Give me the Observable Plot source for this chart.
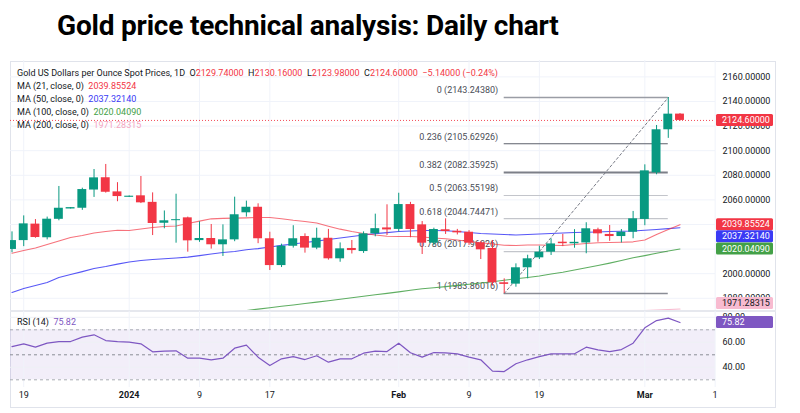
<!DOCTYPE html>
<html><head><meta charset="utf-8">
<script src="https://cdn.jsdelivr.net/npm/d3@7"></script>
<script src="https://cdn.jsdelivr.net/npm/@observablehq/plot@0.6"></script>
<style>
body{margin:0;background:#fff;width:800px;height:413px;overflow:hidden;font-family:Roboto,"Noto Sans",sans-serif;position:relative}
#title{position:absolute;left:57px;top:9px;font-size:28px;font-weight:700;color:#000;white-space:nowrap;letter-spacing:-0.2px}
#frame{position:absolute;left:10px;top:61px;width:766px;height:347px;border:1px solid #e0e3eb;box-sizing:border-box}
#sep{position:absolute;left:10px;top:310px;width:766px;height:2px;background:#e6e8ee}
#price{position:absolute;left:10px;top:60px}
#rsi{position:absolute;left:10px;top:311px}
.lg{position:absolute;left:17px;font-size:9px;color:#131722;white-space:nowrap;line-height:13px}
svg{overflow:hidden}
</style></head>
<body>
<div id="title">Gold price technical analysis: Daily chart</div>
<div id="frame"></div>
<div id="price"></div>
<div id="sep"></div>
<div id="rsi"></div>
<div id="legend"></div>
<script>
// ---------- data ----------
const dates = ["2023-12-18","2023-12-19","2023-12-20","2023-12-21","2023-12-22","2023-12-25","2023-12-26","2023-12-27","2023-12-28","2023-12-29",
"2024-01-01","2024-01-02","2024-01-03","2024-01-04","2024-01-05","2024-01-08","2024-01-09","2024-01-10","2024-01-11","2024-01-12",
"2024-01-15","2024-01-16","2024-01-17","2024-01-18","2024-01-19","2024-01-22","2024-01-23","2024-01-24","2024-01-25","2024-01-26",
"2024-01-29","2024-01-30","2024-01-31","2024-02-01","2024-02-02","2024-02-05","2024-02-06","2024-02-07","2024-02-08","2024-02-09",
"2024-02-12","2024-02-13","2024-02-14","2024-02-15","2024-02-16","2024-02-19","2024-02-20","2024-02-21","2024-02-22","2024-02-23",
"2024-02-26","2024-02-27","2024-02-28","2024-02-29","2024-03-01","2024-03-04","2024-03-05","2024-03-06"];
const open  = [2019.7,2026.9,2040.3,2029.2,2044.2,2053.0,2053.2,2068.0,2078.0,2066.5,
2062.5,2063.3,2058.0,2041.0,2043.1,2045.4,2026.9,2028.6,2023.5,2027.5,
2049.5,2054.0,2028.4,2006.6,2022.3,2030.2,2020.8,2028.8,2012.1,2020.5,
2018.0,2032.4,2036.8,2036.0,2056.2,2039.7,2024.8,2035.7,2034.5,2033.7,
2025.0,2020.5,1992.6,1991.5,2004.8,2012.9,2017.5,2025.2,2024.7,2025.0,
2035.7,2031.9,2030.2,2033.7,2044.1,2082.0,2117.0,2129.74];
const high  = [2034.0,2047.0,2044.0,2046.0,2070.9,2053.8,2069.5,2084.7,2088.8,2074.0,
2063.2,2079.0,2065.7,2051.0,2064.6,2046.0,2042.2,2040.0,2039.7,2062.2,
2059.0,2056.8,2033.7,2024.0,2039.0,2032.4,2037.0,2036.0,2025.0,2027.0,
2034.0,2048.4,2056.0,2065.4,2058.0,2042.4,2037.0,2044.6,2036.0,2035.0,
2026.0,2027.0,1995.8,2008.0,2015.0,2022.3,2028.3,2032.0,2035.8,2041.4,
2037.0,2039.2,2035.9,2050.6,2088.5,2120.5,2143.24,2130.16];
const low   = [2017.0,2022.0,2028.8,2027.5,2043.0,2052.6,2051.5,2062.0,2065.5,2058.5,
2062.0,2057.0,2031.0,2036.5,2024.8,2017.5,2025.5,2020.0,2014.0,2026.0,
2046.0,2024.4,2002.6,2005.0,2020.8,2016.7,2019.5,2011.0,2009.3,2016.0,
2016.5,2030.0,2031.0,2034.0,2029.2,2015.6,2023.0,2031.9,2031.5,2023.0,
2011.5,1990.0,1983.86,1989.0,1995.8,2011.5,2014.8,2022.0,2020.7,2016.2,
2025.6,2026.3,2025.0,2028.4,2039.0,2080.4,2110.0,2123.98];
const close = [2026.9,2040.5,2029.4,2044.3,2053.2,2053.3,2068.4,2077.9,2066.2,2062.7,
2062.6,2057.6,2040.8,2043.0,2043.9,2026.7,2028.6,2023.5,2027.5,2047.9,
2054.0,2028.4,2006.6,2022.3,2028.4,2020.8,2028.8,2012.1,2020.2,2018.8,
2032.4,2036.6,2036.0,2056.2,2035.9,2024.8,2035.9,2034.3,2033.2,2024.8,
2019.4,1992.6,1991.3,2004.8,2012.1,2017.5,2024.2,2024.8,2025.1,2036.5,
2032.4,2030.2,2033.7,2044.6,2083.6,2117.0,2129.7,2124.60];
const ma21 = [2016.6,2018.8,2020.9,2023.7,2026.6,2029.4,2031.0,2033.1,2034.3,2035.3,
2035.1,2036.3,2037.5,2038.4,2038.8,2040.8,2042.7,2044.6,2045.0,2045.2,
2045.4,2045.7,2045.7,2044.7,2043.4,2042.4,2041.2,2038.6,2036.2,2034.3,
2032.7,2031.4,2030.4,2030.2,2030.2,2029.8,2029.0,2028.4,2027.4,2026.2,
2025.1,2024.1,2023.1,2022.9,2023.3,2023.3,2023.1,2022.9,2023.7,2024.5,
2025.1,2025.3,2025.6,2025.9,2027.4,2031.9,2035.9,2039.85524];
const ma50 = [1984.7,1987.9,1990.4,1992.8,1996.9,1999.3,2001.7,2004.2,2005.8,2007.8,
2009.5,2010.7,2011.5,2012.1,2012.7,2013.5,2014.7,2016.0,2017.2,2018.0,
2019.4,2020.4,2021.7,2023.0,2024.1,2025.3,2026.5,2027.8,2029.0,2030.2,
2031.4,2032.6,2033.4,2034.3,2034.7,2035.1,2035.1,2034.9,2034.3,2033.5,
2032.7,2032.3,2031.9,2031.4,2031.9,2032.3,2032.7,2033.1,2033.5,2033.7,
2033.9,2034.3,2034.5,2034.7,2035.3,2035.9,2036.6,2037.32140];
const ma100 = [null,null,null,null,null,null,null,null,null,null,
null,null,null,null,null,null,null,null,null,1968.9,
1970.0,1971.2,1972.3,1973.5,1974.6,1975.7,1976.9,1978.0,1979.2,1980.4,
1981.7,1982.9,1984.0,1985.2,1986.5,1987.7,1988.6,1989.5,1990.5,1991.4,
1992.4,1993.4,1994.6,1995.9,1996.9,1998.1,1999.7,2001.2,2003.0,2004.8,
2006.6,2008.6,2010.7,2012.9,2014.7,2016.6,2018.4,2020.04090];
const ma200 = [null,null,null,null,null,null,null,null,null,null,
null,null,null,null,null,null,null,null,null,null,
null,null,null,null,null,null,null,null,null,null,
null,null,null,null,null,null,null,null,null,null,
null,null,null,null,null,null,null,null,1967.5,1968.0,
1968.4,1968.8,1969.2,1969.6,1970.0,1970.4,1970.9,1971.28315];
const rsi = [56.6,58.8,56.1,59.3,60.6,60.6,64.1,66.0,61.4,60.6,
60.1,58.8,52.4,52.9,53.2,47.3,47.3,46.0,47.3,55.3,
57.7,48.1,41.4,46.8,48.6,46.2,49.2,44.1,46.8,46.8,
51.3,52.9,52.6,59.3,51.6,48.1,51.8,51.6,50.8,48.1,
46.0,36.9,36.6,42.8,46.0,48.6,50.8,50.8,50.8,56.1,
54.0,52.6,54.2,59.3,71.6,77.4,79.3,75.82];
const fibLevels = ["0","0.236","0.382","0.5","0.618","0.786","1"];
const fibPrices = [2143.24380,2105.62926,2082.35925,2063.55198,2044.74471,2017.96826,1983.86016];
const fibFrom = "2024-02-14", fibTo = "2024-03-05";
const tickDates  = ["2023-12-19","2024-01-01","2024-01-09","2024-01-17","2024-02-01","2024-02-09","2024-02-19","2024-03-01","2024-03-11"];
const tickLabels = ["19","2024","9","17","Feb","9","19","Mar","1"];
const tickBold   = [false,true,false,false,true,false,false,true,false];
const priceTicks = [1980,2000,2020,2040,2060,2080,2100,2120,2140,2160];
const rsiTicks = [40,60,80];
const rsiLevels = [30,50,70];
const legendName = "Gold US Dollars per Ounce Spot Prices, 1D";
const legendChange = "\u22125.14000 (\u22120.24%)";
const maNames = ["MA (21, close, 0)","MA (50, close, 0)","MA (100, close, 0)","MA (200, close, 0)"];

// ---------- helpers ----------
function wdIndex(s){
  const t0=new Date(dates[0]+"T00:00Z"), t=new Date(s+"T00:00Z");
  let n=0; for(let d=new Date(t0); d<t; d.setUTCDate(d.getUTCDate()+1)){const w=d.getUTCDay(); if(w!==0&&w!==6) n++;}
  return n;
}
const UP="#089981", DOWN="#f23645";
const C21="#f23645", C50="#3a3af5", C100="#43a047", C200="#f8bbd0", CRSI="#7e57c2";
const candles = dates.map((d,i)=>({i,o:open[i],h:high[i],l:low[i],c:close[i]}));
const ticks = tickDates.map((d,k)=>({i:wdIndex(d),label:tickLabels[k],bold:tickBold[k]}));
const fibs = fibLevels.map((l,k)=>({lvl:l,p:fibPrices[k],k}));
const f0=wdIndex(fibFrom), f1=wdIndex(fibTo);
const fibColor=["#9a9da5","#5d606b","#7c7f88","#c3c5cb","#c3c5cb","#c3c5cb","#8a8d96"];
const fibWidth=[1.6,1,2,1.2,1.2,1.2,1.6];
const xDomain=[-0.128,60.03];
const W=766, MR=61;
const fmt5=d3.format(".5f");
const pad = 0.4;

// ---------- price panel ----------
const price = Plot.plot({
  width:W, height:250, marginLeft:0, marginRight:MR, marginTop:0, marginBottom:0,
  style:{fontSize:"9px",fontFamily:"Roboto, sans-serif",color:"#131722",background:"transparent"},
  x:{domain:xDomain, axis:null},
  y:{domain:[1970.07,2173.32], axis:"right", ticks:priceTicks, tickFormat:fmt5, tickSize:0, tickPadding:7, label:null},
  marks:[
    Plot.ruleY(priceTicks,{stroke:"#f0f3fa"}),
    Plot.ruleX(ticks,{x:"i",stroke:"#f0f3fa"}),
    Plot.ruleY([close[close.length-1]],{stroke:DOWN,strokeDasharray:"1,2",strokeOpacity:0.9}),
    Plot.ruleY(fibs,{y:"p",x1:f0,x2:f1,stroke:d=>fibColor[d.k],strokeWidth:d=>fibWidth[d.k]}),
    Plot.text(fibs,{x:()=>f0,y:"p",text:d=>`${d.lvl} (${fmt5(d.p)})`,textAnchor:"end",dx:-6,dy:-7,fill:"#4a4d57",fontSize:9}),
    Plot.line([{i:f0,p:fibPrices[6]},{i:f1,p:fibPrices[0]}],{x:"i",y:"p",stroke:"#787b86",strokeDasharray:"2.5,2.5",strokeWidth:1}),
    Plot.line(candles,{x:"i",y:d=>ma200[d.i],stroke:C200,strokeWidth:1.2,clip:true}),
    Plot.line(candles,{x:"i",y:d=>ma100[d.i],stroke:C100,strokeWidth:1.1,strokeOpacity:0.85,clip:true}),
    Plot.line(candles,{x:"i",y:d=>ma50[d.i],stroke:C50,strokeWidth:1.1,strokeOpacity:0.85,clip:true}),
    Plot.line(candles,{x:"i",y:d=>ma21[d.i],stroke:C21,strokeWidth:1.1,strokeOpacity:0.7,clip:true}),
    Plot.ruleX(candles,{x:"i",y1:"l",y2:"h",stroke:d=>d.c>=d.o?UP:DOWN,strokeWidth:1}),
    Plot.rect(candles,{x1:d=>d.i-0.38,x2:d=>d.i+0.38,
      y1:d=>Math.min(d.o,d.c)-(Math.abs(d.c-d.o)<0.8?pad:0),
      y2:d=>Math.max(d.o,d.c)+(Math.abs(d.c-d.o)<0.8?pad:0),
      fill:d=>d.c>=d.o?UP:DOWN})
  ]
});
document.getElementById("price").appendChild(price);

// ---------- rsi panel ----------
const rsiData = rsi.map((v,i)=>({i,v}));
const rsiChart = Plot.plot({
  width:W, height:96, marginLeft:0, marginRight:MR, marginTop:0, marginBottom:20,
  style:{fontSize:"9px",fontFamily:"Roboto, sans-serif",color:"#131722",background:"transparent"},
  x:{domain:xDomain, axis:null},
  y:{domain:[23.84,84.64], axis:"right", ticks:rsiTicks, tickFormat:d3.format(".2f"), tickSize:0, tickPadding:7, label:null},
  marks:[
    Plot.rect([0],{x1:xDomain[0],x2:xDomain[1],y1:rsiLevels[0],y2:rsiLevels[2],fill:CRSI,fillOpacity:0.1}),
    Plot.ruleY(rsiTicks,{stroke:"#eef0f5"}),
    Plot.ruleX(ticks,{x:"i",stroke:"#f0f3fa"}),
    Plot.ruleY(rsiLevels,{stroke:d=>d===50?"#8a8d96":"#a8abb3",strokeDasharray:"3,3"}),
    Plot.line(rsiData,{x:"i",y:"v",stroke:CRSI,strokeWidth:1.2}),
    Plot.text(ticks.filter(t=>!t.bold),{x:"i",text:"label",frameAnchor:"bottom",dy:10.7,fill:"#131722",fontSize:9}),
    Plot.text(ticks.filter(t=>t.bold),{x:"i",text:"label",frameAnchor:"bottom",dy:10.7,fill:"#131722",fontSize:9,fontWeight:"bold"})
  ]
});
document.getElementById("rsi").appendChild(rsiChart);

// ---------- value boxes on the price scale ----------
function boxes(chart, items, top, bottom){
  const ys = chart.scale("y");
  const svg = d3.select(chart);
  const H = 12;
  let prev = -Infinity;
  items.forEach(it=>{
    let y = ys.apply(it.v);
    if (y - H/2 < prev) y = prev + H/2;
    if (y + H/2 > bottom) y = bottom - H/2;
    if (y - H/2 < top) y = top + H/2;
    prev = y + H/2;
    const g = svg.append("g").attr("text-anchor","start");
    g.append("rect").attr("x",W-MR+1).attr("y",y-H/2).attr("width",57).attr("height",H).attr("rx",1.5).attr("fill",it.bg);
    g.append("text").attr("x",W-MR+7).attr("y",y).attr("dy","0.35em").attr("fill",it.fg)
      .attr("text-anchor","start").attr("font-size",9).attr("font-family","Roboto, sans-serif").text(it.t);
  });
}
boxes(price,[
  {v:close[close.length-1],t:fmt5(close[close.length-1]),bg:DOWN,fg:"#fff"},
  {v:ma21[57],t:fmt5(ma21[57]),bg:C21,fg:"#fff"},
  {v:ma50[57],t:fmt5(ma50[57]),bg:C50,fg:"#fff"},
  {v:ma100[57],t:fmt5(ma100[57]),bg:C100,fg:"#fff"},
  {v:ma200[57],t:fmt5(ma200[57]),bg:C200,fg:"#131722"}
],0,249);
boxes(rsiChart,[{v:rsi[57],t:rsi[57].toFixed(2),bg:CRSI,fg:"#fff"}],0,76);

// ---------- legend ----------
const last = candles[57];
const red = s=>`<span style="color:${DOWN}">${s}</span>`;
const lg = document.getElementById("legend");
const lines = [
  `${legendName}&nbsp; O${red(fmt5(last.o))} &nbsp;H${red(fmt5(last.h))} &nbsp;L${red(fmt5(last.l))} &nbsp;C${red(fmt5(last.c))} &nbsp;${red(legendChange)}`,
  `${maNames[0]}&nbsp; <span style="color:${C21}">${fmt5(ma21[57])}</span>`,
  `${maNames[1]}&nbsp; <span style="color:${C50}">${fmt5(ma50[57])}</span>`,
  `${maNames[2]}&nbsp; <span style="color:${C100}">${fmt5(ma100[57])}</span>`,
  `${maNames[3]}&nbsp; <span style="color:#f4a6c0">${fmt5(ma200[57])}</span>`
];
lines.forEach((h,k)=>{
  const d=document.createElement("div"); d.className="lg"; d.style.top=(67+k*13)+"px"; d.innerHTML=h; lg.appendChild(d);
});
const rl=document.createElement("div"); rl.className="lg"; rl.style.top="316px";
rl.innerHTML=`RSI (14)&nbsp; <span style="color:${CRSI}">${rsi[57].toFixed(2)}</span>`; lg.appendChild(rl);
</script>
</body></html>
